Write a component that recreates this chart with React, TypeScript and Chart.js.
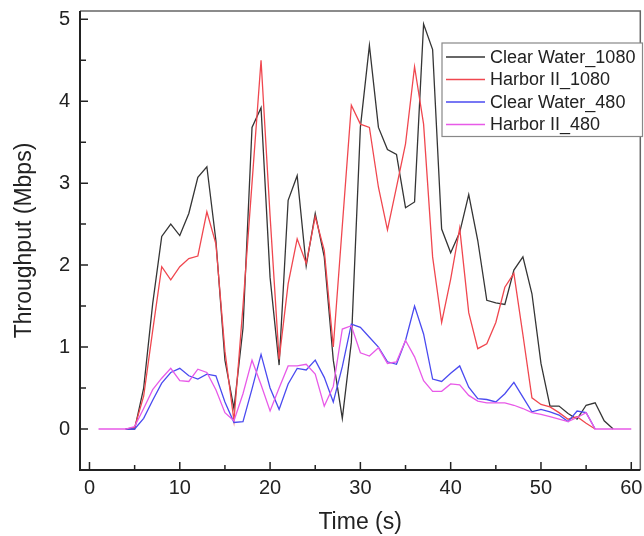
import React, { useEffect, useRef } from 'react';
import { Chart, registerables } from 'chart.js';

Chart.register(...registerables);

const times = [1, 2, 3, 4, 5, 6, 7, 8, 9, 10, 11, 12, 13, 14, 15, 16, 17, 18, 19, 20,
  21, 22, 23, 24, 25, 26, 27, 28, 29, 30, 31, 32, 33, 34, 35, 36, 37, 38, 39, 40,
  41, 42, 43, 44, 45, 46, 47, 48, 49, 50, 51, 52, 53, 54, 55, 56, 57, 58, 59, 60];

const clearWater1080 = [null, null, null, 0, 0, 0.5, 1.53, 2.35, 2.5, 2.36,
  2.63, 3.07, 3.2, 2.3, 0.84, 0.25, 1.23, 3.68, 3.92, 1.85,
  0.78, 2.79, 3.09, 1.99, 2.63, 2.1, 0.84, 0.13, 1.06, 3.68,
  4.68, 3.68, 3.41, 3.35, 2.7, 2.77, 4.94, 4.63, 2.44, 2.15,
  2.4, 2.86, 2.3, 1.57, 1.54, 1.52, 1.94, 2.1, 1.65, 0.8,
  0.28, 0.28, 0.19, 0.12, 0.29, 0.32, 0.1, 0, null, null];

const harbor1080 = [null, null, null, 0, 0.02, 0.4, 1.2, 1.98, 1.82, 1.98,
  2.08, 2.11, 2.65, 2.26, 0.95, 0.1, 1.5, 3.0, 4.5, 2.6,
  0.85, 1.77, 2.32, 2.02, 2.59, 2.18, 1.0, 2.48, 3.95, 3.72,
  3.68, 2.95, 2.43, 2.95, 3.48, 4.42, 3.72, 2.1, 1.3, 1.83,
  2.45, 1.42, 0.98, 1.04, 1.3, 1.73, 1.9, 1.15, 0.38, 0.3,
  0.27, 0.2, 0.12, 0.15, 0.07, 0, null, null, null, null];

const clearWater480 = [null, null, null, 0, 0, 0.13, 0.35, 0.56, 0.69, 0.74,
  0.65, 0.61, 0.67, 0.65, 0.33, 0.08, 0.09, 0.49, 0.91, 0.5,
  0.24, 0.55, 0.74, 0.72, 0.84, 0.63, 0.33, 0.76, 1.28, 1.24,
  1.12, 1.0, 0.82, 0.79, 1.08, 1.5, 1.16, 0.61, 0.58, 0.68,
  0.77, 0.51, 0.37, 0.36, 0.33, 0.43, 0.57, 0.39, 0.21, 0.24,
  0.21, 0.17, 0.09, 0.22, 0.2, 0, null, null, null, null];

const harbor480 = [0, 0, 0, 0, 0.03, 0.25, 0.48, 0.62, 0.74, 0.59,
  0.58, 0.73, 0.69, 0.48, 0.2, 0.1, 0.43, 0.84, 0.54, 0.22,
  0.5, 0.77, 0.77, 0.79, 0.67, 0.28, 0.52, 1.22, 1.26, 0.93,
  0.89, 0.99, 0.8, 0.82, 1.08, 0.88, 0.59, 0.46, 0.46, 0.55,
  0.54, 0.41, 0.34, 0.32, 0.32, 0.32, 0.29, 0.25, 0.2, 0.18,
  0.15, 0.12, 0.09, 0.14, 0.2, 0, 0, 0, 0, 0];

const seriesLabels = ['Clear Water_1080', 'Harbor II_1080', 'Clear Water_480', 'Harbor II_480'];
const seriesColors = ['#353535', '#f0474f', '#4a4af0', '#e85ae8'];
const seriesValues = [clearWater1080, harbor1080, clearWater480, harbor480];

const xLabelTicks = [0, 10, 20, 30, 40, 50, 60];
const xMinorTicks = [5, 15, 25, 35, 45, 55];
const yLabelTicks = [0, 1, 2, 3, 4, 5];
const yMinorTicks = [0.5, 1.5, 2.5, 3.5, 4.5];

const FONT = "'Liberation Sans', Arial, sans-serif";

const decorPlugin = {
  id: 'decor',
  afterDraw(chart: any) {
    const { ctx, chartArea: ca, scales } = chart;
    const x = scales.x;
    const y = scales.y;
    ctx.save();
    // frame top/right
    ctx.strokeStyle = '#666';
    ctx.lineWidth = 1.5;
    ctx.beginPath();
    ctx.moveTo(ca.left, ca.top);
    ctx.lineTo(ca.right, ca.top);
    ctx.lineTo(ca.right, ca.bottom);
    ctx.stroke();
    // axes left/bottom
    ctx.strokeStyle = '#222';
    ctx.lineWidth = 2;
    ctx.beginPath();
    ctx.moveTo(ca.left, ca.top);
    ctx.lineTo(ca.left, ca.bottom);
    ctx.lineTo(ca.right, ca.bottom);
    ctx.stroke();
    // inside ticks
    ctx.lineWidth = 1.5;
    ctx.beginPath();
    xLabelTicks.forEach((v) => {
      const px = x.getPixelForValue(v);
      ctx.moveTo(px, ca.bottom);
      ctx.lineTo(px, ca.bottom - 8);
    });
    xMinorTicks.forEach((v) => {
      const px = x.getPixelForValue(v);
      ctx.moveTo(px, ca.bottom);
      ctx.lineTo(px, ca.bottom - 5);
    });
    yLabelTicks.forEach((v) => {
      const py = y.getPixelForValue(v);
      ctx.moveTo(ca.left, py);
      ctx.lineTo(ca.left + 8, py);
    });
    yMinorTicks.forEach((v) => {
      const py = y.getPixelForValue(v);
      ctx.moveTo(ca.left, py);
      ctx.lineTo(ca.left + 6, py);
    });
    ctx.stroke();

    // legend
    const bx = 442, by = 43, bw = 200.5, bh = 93.5;
    ctx.fillStyle = '#fff';
    ctx.fillRect(bx, by, bw, bh);
    ctx.strokeStyle = '#888';
    ctx.lineWidth = 1.2;
    ctx.strokeRect(bx, by, bw, bh);
    ctx.font = `18px ${FONT}`;
    ctx.textBaseline = 'middle';
    ctx.textAlign = 'left';
    seriesLabels.forEach((lab, i) => {
      const ry = 57 + i * 22.5;
      ctx.strokeStyle = seriesColors[i];
      ctx.lineWidth = 1.3;
      ctx.beginPath();
      ctx.moveTo(446, ry);
      ctx.lineTo(485, ry);
      ctx.stroke();
      ctx.fillStyle = '#222';
      ctx.fillText(lab, 490, ry + 1);
    });
    ctx.restore();
  },
};

export default function App() {
  const ref = useRef<HTMLCanvasElement | null>(null);
  useEffect(() => {
    if (!ref.current) return;
    const datasets = seriesValues.map((vals, i) => ({
      label: seriesLabels[i],
      data: times.map((t, j) => ({ x: t, y: vals[j] })),
      borderColor: seriesColors[i],
      backgroundColor: seriesColors[i],
      borderWidth: 1.3,
      pointRadius: 0,
      tension: 0,
      spanGaps: false,
      order: 4 - i,
    }));
    const chart = new Chart(ref.current, {
      type: 'line',
      data: { datasets },
      plugins: [decorPlugin],
      options: {
        animation: false,
        responsive: false,
        devicePixelRatio: 1,
        layout: { padding: { top: 11, right: 3.7, left: 0, bottom: 0 } },
        plugins: { legend: { display: false }, tooltip: { enabled: false } },
        scales: {
          x: {
            type: 'linear',
            min: -1.05,
            max: 61,
            grid: { display: false, drawTicks: false },
            border: { display: false },
            afterBuildTicks: (s: any) => { s.ticks = xLabelTicks.map((v) => ({ value: v })); },
            afterFit: (s: any) => {
              s.height = 66;
              s.paddingLeft = 0; s.paddingRight = 0; s.paddingTop = 0; s.paddingBottom = 0;
            },
            ticks: {
              color: '#222',
              font: { family: FONT, size: 20 },
              padding: 6,
              maxRotation: 0,
              autoSkip: false,
            },
            title: {
              display: true,
              text: 'Time (s)',
              color: '#222',
              font: { family: FONT, size: 23, lineHeight: 1.1 },
              padding: { top: 0, bottom: 1 },
            },
          },
          y: {
            type: 'linear',
            min: -0.5,
            max: 5.1,
            grid: { display: false, drawTicks: false },
            border: { display: false },
            afterBuildTicks: (s: any) => { s.ticks = yLabelTicks.map((v) => ({ value: v })); },
            afterFit: (s: any) => {
              s.width = 80;
              s.paddingLeft = 0; s.paddingRight = 0; s.paddingTop = 0; s.paddingBottom = 0;
            },
            ticks: {
              color: '#222',
              font: { family: FONT, size: 20 },
              padding: 10,
              autoSkip: false,
            },
            title: {
              display: true,
              text: 'Throughput (Mbps)',
              color: '#222',
              font: { family: FONT, size: 23, lineHeight: 1.2 },
              padding: { top: 11, bottom: 0 },
            },
          },
        },
      },
    });
    return () => chart.destroy();
  }, []);
  return (
    <div style={{ position: 'fixed', left: 0, top: 0, width: 644, height: 536, background: '#fff' }}>
      <canvas ref={ref} width={644} height={536} style={{ width: 644, height: 536 }} />
    </div>
  );
}
